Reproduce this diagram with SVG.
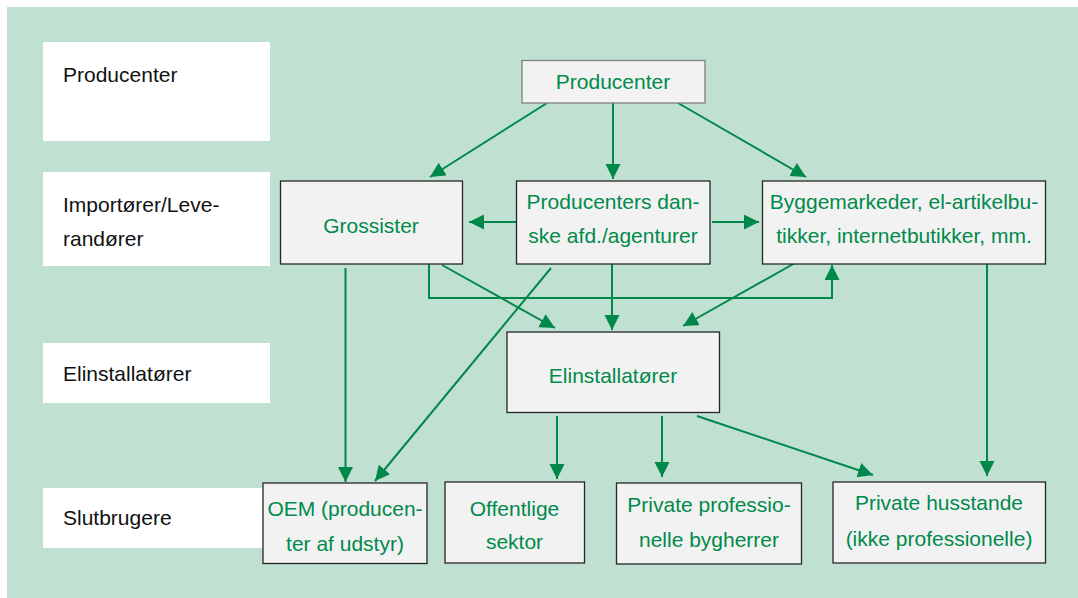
<svg xmlns="http://www.w3.org/2000/svg" width="1078" height="598" viewBox="0 0 1078 598">
<style>
.lbl{fill:#ffffff}
.lt{font-family:"Liberation Sans",Arial,sans-serif;font-size:21px;fill:#111111}
.box{fill:#f2f2f2;stroke:#262626;stroke-width:1.3}
.bt{font-family:"Liberation Sans",Arial,sans-serif;font-size:21px;fill:#008a4b;text-anchor:middle}
.c{stroke:#00874a;stroke-width:2;fill:none}
</style>
<defs>
<marker id="ah" markerUnits="userSpaceOnUse" markerWidth="16" markerHeight="16" refX="15" refY="7.5" orient="auto">
<path d="M0,0 L15,7.5 L0,15 z" fill="#00874a"/>
</marker>
</defs>
<rect x="7" y="7" width="1071" height="591" fill="#c0e1d1"/>
<g id="label-producenter"><rect class="lbl" x="43" y="42" width="227" height="99"/><text class="lt" x="63" y="82">Producenter</text></g>
<g id="label-importorer"><rect class="lbl" x="43" y="172" width="227" height="94"/><text class="lt" x="63" y="212">Importører/Leve-</text><text class="lt" x="63" y="246">randører</text></g>
<g id="label-elinstallatorer"><rect class="lbl" x="43" y="343" width="227" height="60"/><text class="lt" x="63" y="381">Elinstallatører</text></g>
<g id="label-slutbrugere"><rect class="lbl" x="43" y="488" width="227" height="60"/><text class="lt" x="63" y="525">Slutbrugere</text></g>
<g id="connectors">
<line class="c" x1="547" y1="103" x2="430" y2="177" marker-end="url(#ah)"/>
<line class="c" x1="613" y1="103" x2="613" y2="179" marker-end="url(#ah)"/>
<line class="c" x1="678" y1="103" x2="806" y2="177" marker-end="url(#ah)"/>
<line class="c" x1="516" y1="222" x2="469" y2="222" marker-end="url(#ah)"/>
<line class="c" x1="712" y1="222" x2="759" y2="222" marker-end="url(#ah)"/>
<line class="c" x1="345.5" y1="268" x2="345.5" y2="482" marker-end="url(#ah)"/>
<line class="c" x1="551" y1="268" x2="375" y2="481" marker-end="url(#ah)"/>
<line class="c" x1="442" y1="265" x2="555" y2="328" marker-end="url(#ah)"/>
<path class="c" d="M429,264 V298 H832 V265" marker-end="url(#ah)"/>
<line class="c" x1="612" y1="264" x2="612" y2="330" marker-end="url(#ah)"/>
<line class="c" x1="795" y1="263" x2="683" y2="326" marker-end="url(#ah)"/>
<line class="c" x1="987" y1="264" x2="987" y2="476" marker-end="url(#ah)"/>
<line class="c" x1="557" y1="416" x2="557" y2="479" marker-end="url(#ah)"/>
<line class="c" x1="662" y1="416" x2="662" y2="477" marker-end="url(#ah)"/>
<line class="c" x1="697" y1="416" x2="873" y2="475" marker-end="url(#ah)"/>
</g>
<g id="node-producenter"><rect class="box" x="522" y="60.5" width="183" height="42.5" style="stroke:#7f7f7f"/><text class="bt" x="613" y="89">Producenter</text></g>
<g id="node-grossister"><rect class="box" x="280.5" y="181" width="182" height="83"/><text class="bt" x="371" y="233">Grossister</text></g>
<g id="node-danske"><rect class="box" x="516.5" y="181" width="193.5" height="83"/><text class="bt" x="613" y="209">Producenters dan-</text><text class="bt" x="613" y="243">ske afd./agenturer</text></g>
<g id="node-bygge"><rect class="box" x="762.5" y="181" width="283" height="83"/><text class="bt" x="904" y="209">Byggemarkeder, el-artikelbu-</text><text class="bt" x="904" y="243">tikker, internetbutikker, mm.</text></g>
<g id="node-elinst"><rect class="box" x="507" y="332" width="212.5" height="80.5"/><text class="bt" x="613" y="383">Elinstallatører</text></g>
<g id="node-oem"><rect class="box" x="263" y="483" width="164" height="80.5"/><text class="bt" x="345" y="516">OEM (producen-</text><text class="bt" x="345" y="551">ter af udstyr)</text></g>
<g id="node-offentlige"><rect class="box" x="445" y="482" width="139.5" height="81"/><text class="bt" x="514.5" y="516">Offentlige</text><text class="bt" x="514.5" y="549">sektor</text></g>
<g id="node-privprof"><rect class="box" x="616.5" y="483" width="185" height="81"/><text class="bt" x="709" y="512">Private professio-</text><text class="bt" x="709" y="547">nelle bygherrer</text></g>
<g id="node-husstande"><rect class="box" x="833" y="482" width="212.5" height="81"/><text class="bt" x="939" y="510">Private husstande</text><text class="bt" x="939" y="546">(ikke professionelle)</text></g>
</svg>
